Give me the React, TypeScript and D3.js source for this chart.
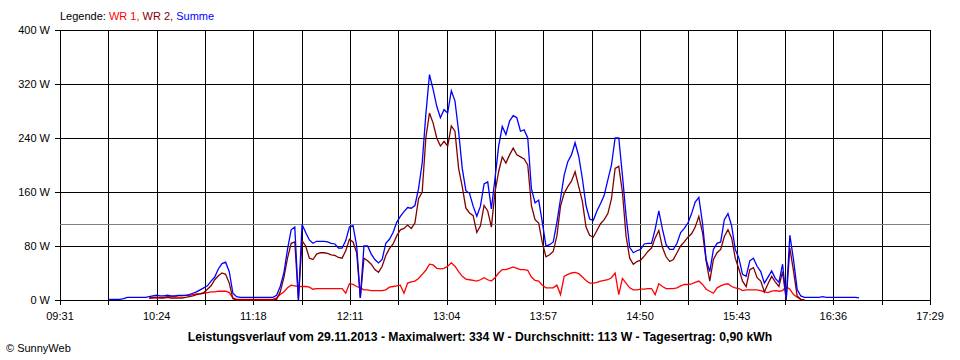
import React from 'react';
import * as d3 from 'd3';

// x axis labels (every second grid line carries one)
const timeLabels = ['09:31', '10:24', '11:18', '12:11', '13:04', '13:57', '14:50', '15:43', '16:36', '17:29'];
const yTicks = [0, 80, 160, 240, 320, 400];

// readings every 2 minutes starting 09:56
const sampleStart = '09:56';
const sampleStepMin = 2;

const summe: (number | null)[] = [
  null, 1, 1, 1, 1, 2, 4, 4, 4, 4, 4, 4, 5,
  6, 7, 6, 6, 7, 6, 6, 7,
  7, 7, 8, 10, 12, 15, 18, 21, 28, 34,
  46, 54, 56, 42, 10, 5, 4, 4, 4, 4,
  4, 4, 4, 4, 4, 4, 7, 20, 40, 75,
  104, 108, 0, 112, 100, 89, 84, 87, 87, 87,
  86, 84, 83, 77, 77, 88, 108, 110, 80, 3,
  80, 80, 68, 60, 55, 60, 84, 90, 100, 115,
  124, 131, 137, 136, 140, 165, 203, 275, 334, 312,
  287, 270, 282, 277, 310, 295, 250, 195, 162, 158,
  139, 124, 139, 172, 175, 135, 180, 228, 257, 245,
  265, 273, 270, 250, 252, 240, 165, 144, 148, 115,
  80, 82, 86, 115, 150, 185, 205, 215, 233, 213,
  180, 140, 120, 118, 132, 143, 155, 178, 200, 240,
  240, 185, 125, 78, 70, 73, 75, 83, 84, 84,
  105, 132, 105, 82, 75, 75, 84, 100, 106, 114,
  128, 145, 152, 114, 60, 42, 75, 84, 86, 119,
  128, 110, 75, 62, 38, 35, 58, 62, 50, 42,
  25, 34, 43, 32, 26, 53, 2, 96, 60, 16,
  6, 4, 4, 4, 4, 4, 5, 4, 4, 4,
  4, 4, 4, 4, 4, 4, 3,
];

const wr2: (number | null)[] = [
  null, null, null, null, null, null, null, null, null, null, null, null,
  3, 4, 4, 3, 3, 4, 3, 3, 3, 3,
  4, 5, 6, 8, 9, 11, 16, 21, 30, 36,
  40, 38, 25, 2, 0, 0, 0, 0, 0, 0,
  0, 0, 0, 0, 0, 1, 12, 33, 62, 84,
  86, 0, 88, 80, 62, 60, 68, 70, 70, 69,
  67, 66, 63, 62, 73, 90, 86, 70, 3, 62,
  58, 53, 45, 41, 50, 66, 76, 83, 95, 104,
  106, 111, 106, 114, 150, 160, 240, 277, 262, 240,
  228, 235, 228, 258, 250, 195, 168, 136, 129, 125,
  100, 110, 140, 132, 108, 160, 190, 212, 203, 215,
  225, 215, 212, 209, 200, 140, 119, 114, 85, 64,
  67, 72, 95, 139, 158, 168, 176, 190, 168, 146,
  108, 96, 93, 103, 113, 119, 128, 150, 195, 198,
  160, 95, 62, 53, 57, 59, 65, 72, 77, 92,
  103, 78, 64, 57, 60, 70, 80, 86, 93, 98,
  108, 124, 100, 58, 28, 60, 70, 75, 94, 104,
  92, 62, 46, 28, 20, 45, 48, 33, 28, 12,
  24, 35, 27, 20, 42, 0, 77, 43, 6, 1,
  0,
];

const wr1: (number | null)[] = [
  null, null, null, null, null, null, null, null, null, null, null, null,
  2, 3, 3, 4, 4, 5, 5, 5, 6, 6,
  7, 7, 8, 9, 9, 10, 11, 12, 12, 13,
  13, 13, 11, 3, 1, 1, 1, 1, 1, 1,
  1, 1, 1, 1, 1, 3, 8, 12, 18, 22,
  21, 20, 20, 20, 19, 16, 17, 17, 17, 17,
  17, 17, 17, 17, 10, 24, 23, 20, 18, 15,
  15, 14, 14, 14, 14, 15, 19, 20, 21, 22,
  10, 25, 27, 28, 32, 38, 44, 53, 52, 47,
  46, 47, 50, 55, 50, 42, 35, 31, 30, 29,
  28, 30, 33, 30, 28, 33, 40, 45, 45, 47,
  49, 47, 45, 45, 44, 34, 29, 28, 22, 18,
  18, 18, 22, 8, 35, 38, 40, 41, 39, 34,
  29, 25, 25, 26, 28, 29, 30, 33, 40, 8,
  32, 25, 18, 15, 15, 16, 16, 17, 17, 8,
  24, 20, 17, 17, 17, 18, 21, 23, 23, 24,
  26, 28, 23, 16, 13, 10, 18, 21, 23, 24,
  20, 18, 17, 14, 15, 15, 15, 15, 14, 12,
  11, 13, 14, 13, 14, 20, 16, 8, 4, 1,
  0,
];

const averageW = 113;
const title =
  'Leistungsverlauf vom 29.11.2013 - Maximalwert: 334 W - Durchschnitt: 113 W - Tagesertrag: 0,90 kWh';

const toMin = (s: string) => {
  const [h, m] = s.split(':').map(Number);
  return h * 60 + m;
};

const W = 960;
const H = 360;
const margin = { left: 60, right: 30, top: 30, bottom: 60 };
const font = '"Liberation Sans", Arial, sans-serif';

const App = () => {
  const t0 = toMin(timeLabels[0]);
  const t1 = toMin(timeLabels[timeLabels.length - 1]);
  const xScale = d3.scaleLinear().domain([t0, t1]).range([margin.left, W - margin.right]);
  const yScale = d3.scaleLinear().domain([0, 400]).range([H - margin.bottom, margin.top]);

  const nGrid = (timeLabels.length - 1) * 2;
  const gridTimes = d3.range(nGrid + 1).map((j) => t0 + (j * (t1 - t0)) / nGrid);
  const startMin = toMin(sampleStart);

  const line = d3
    .line<number | null>()
    .defined((d) => d != null)
    .x((_, i) => xScale(startMin + i * sampleStepMin))
    .y((d) => yScale(d as number));

  const crisp = (v: number) => Math.round(v) + 0.5;
  const x0 = margin.left;
  const x1 = W - margin.right;
  const yBottom = yScale(0);

  const series = [
    { name: 'WR 1', color: '#ff0000', values: wr1 },
    { name: 'WR 2', color: '#800000', values: wr2 },
    { name: 'Summe', color: '#0000ff', values: summe },
  ];

  return (
    <svg
      width={W}
      height={H}
      style={{ position: 'absolute', left: 0, top: 0, background: '#fff' }}
      fontFamily={font}
      fontSize={11}
    >
      <rect width={W} height={H} fill="#fff" />

      {/* legend */}
      <text x={60} y={20} fill="#000">
        Legende:{' '}
        {series.map((s, i) => (
          <tspan key={s.name} fill={s.color}>
            {s.name}
            {i < series.length - 1 ? ', ' : ''}
          </tspan>
        ))}
      </text>

      {/* horizontal grid + y labels */}
      {yTicks.map((v) => (
        <g key={v}>
          <line
            x1={x0 - 5}
            x2={x1}
            y1={crisp(yScale(v))}
            y2={crisp(yScale(v))}
            stroke="#000"
            shapeRendering="crispEdges"
          />
          <text x={50} y={yScale(v)} dy="0.35em" textAnchor="end" fill="#000">
            {v} W
          </text>
        </g>
      ))}

      {/* vertical grid + ticks */}
      {gridTimes.map((t, j) => (
        <line
          key={j}
          x1={crisp(xScale(t))}
          x2={crisp(xScale(t))}
          y1={margin.top}
          y2={yBottom + 5}
          stroke="#000"
          shapeRendering="crispEdges"
        />
      ))}
      {timeLabels.map((lab, k) => (
        <text key={lab} x={xScale(gridTimes[k * 2])} y={320} textAnchor="middle" fill="#000">
          {lab}
        </text>
      ))}

      {/* average line */}
      <line
        x1={x0}
        x2={x1}
        y1={crisp(yScale(averageW))}
        y2={crisp(yScale(averageW))}
        stroke="#808080"
        shapeRendering="crispEdges"
      />

      {series.map((s) => (
        <path key={s.name} d={line(s.values) || ''} fill="none" stroke={s.color} strokeWidth={1.3} />
      ))}

      <text x={480} y={341} textAnchor="middle" fontWeight="bold" fontSize={12.2} fill="#000">
        {title}
      </text>
      <text x={6} y={352} fill="#000">
        © SunnyWeb
      </text>
    </svg>
  );
};

export default App;
